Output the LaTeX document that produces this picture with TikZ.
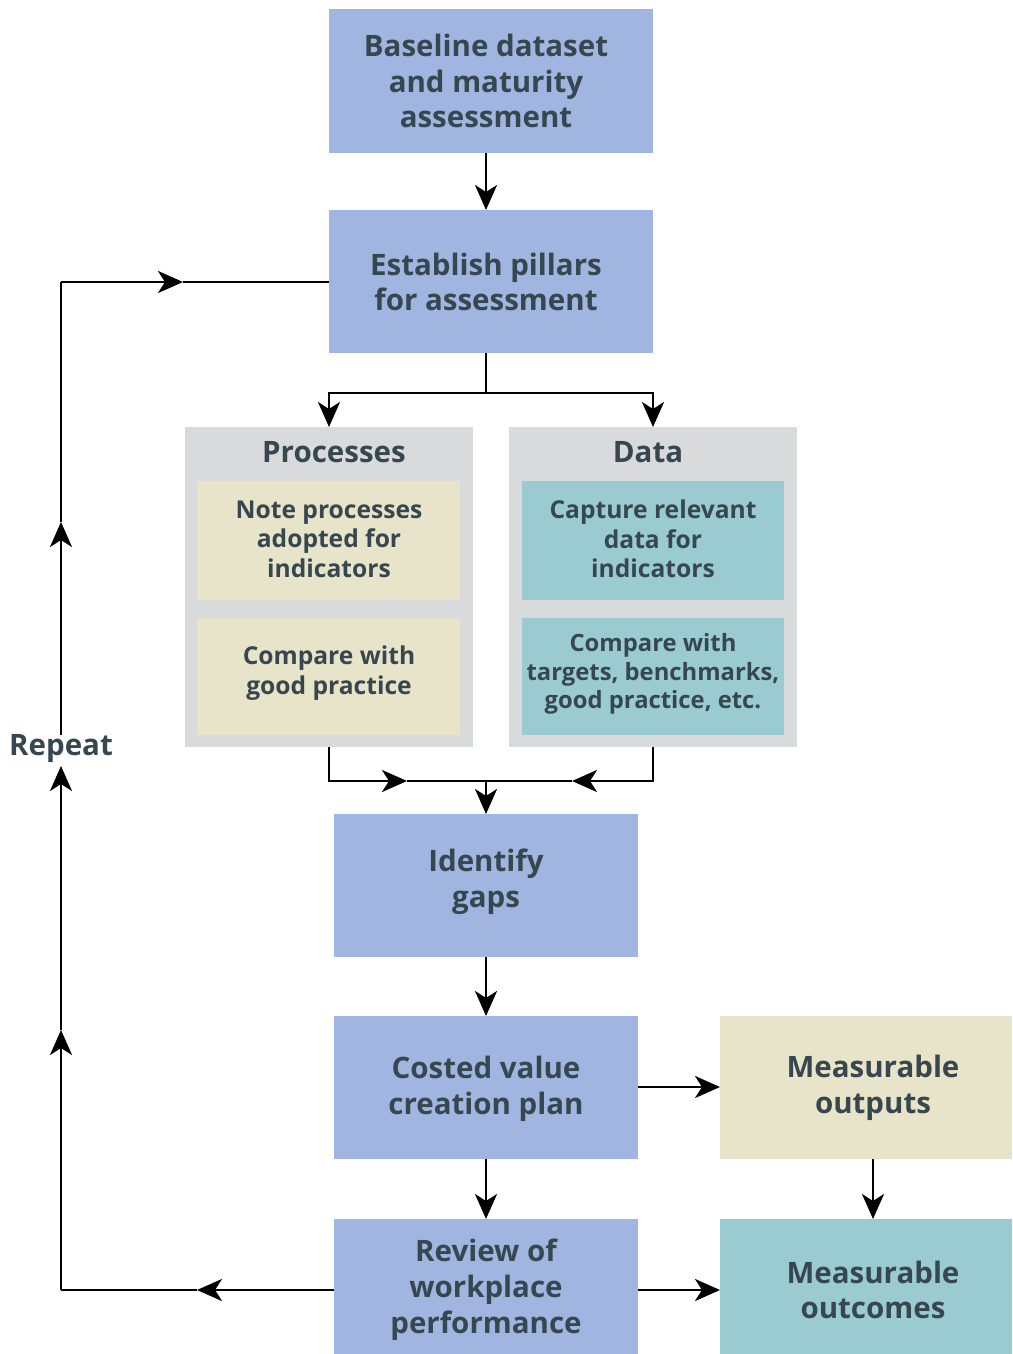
\documentclass[tikz,border=0pt]{standalone}
\usepackage{fontspec}
\setmainfont{Open Sans}
\usetikzlibrary{arrows.meta,calc}

\definecolor{boxblue}{HTML}{A0B6E0}
\definecolor{boxgray}{HTML}{D9DADC}
\definecolor{boxbeige}{HTML}{E8E4C9}
\definecolor{boxteal}{HTML}{99CBD0}
\definecolor{ink}{HTML}{37474F}

\tikzset{
  plain/.style={draw=none, inner sep=0pt, outer sep=0pt, anchor=north west},
  bluebox/.style={plain, fill=boxblue},
  graybox/.style={plain, fill=boxgray},
  beigebox/.style={plain, fill=boxbeige},
  tealbox/.style={plain, fill=boxteal},
  bigtxt/.style={text=ink, align=center, inner sep=0pt,
    font=\fontsize{29.5}{35.8}\selectfont\bfseries},
  midtxt/.style={text=ink, align=center, inner sep=0pt,
    font=\fontsize{24.6}{29.5}\selectfont\bfseries},
  smalltxt/.style={text=ink, align=center, inner sep=0pt,
    font=\fontsize{23.8}{28.8}\selectfont\bfseries},
  link/.style={draw=black, line width=2.5pt},
  arr/.style={link, -{Stealth[length=25pt,width=22pt,inset=7pt]}},
}

\begin{document}
\begin{tikzpicture}[x=1pt,y=-1pt]
\path[use as bounding box] (0,0) rectangle (1012,1354);

% column guides
\coordinate (sp) at (486,0);
\coordinate (lp) at (329,0);
\coordinate (rp) at (653,0);
\coordinate (op) at (873,0);

% main column boxes
\node[bluebox, minimum width=324pt, minimum height=144pt] (b1) at (329,9) {};
\node[bigtxt] (t1) at (486,81) {Baseline dataset\\and maturity\\assessment};

\node[bluebox, minimum width=324pt, minimum height=143pt] (b2) at (329,210) {};
\node[bigtxt] (t2) at (486,282) {Establish pillars\\for assessment};

% processes group
\node[graybox, minimum width=288pt, minimum height=320pt] (gp) at (185,427) {};
\node[bigtxt] (tgp) at (334,452) {Processes};
\node[beigebox, minimum width=263pt, minimum height=119pt] (p1) at (197,481) {};
\node[midtxt] (tp1) at (329,539) {Note processes\\adopted for\\indicators};
\node[beigebox, minimum width=263pt, minimum height=117pt] (p2) at (197,618) {};
\node[midtxt] (tp2) at (329,673) {Compare with\\good practice};

% data group
\node[graybox, minimum width=288pt, minimum height=320pt] (gd) at (509,427) {};
\node[bigtxt] (tgd) at (648,452) {Data};
\node[tealbox, minimum width=262pt, minimum height=119pt] (d1) at (522,481) {};
\node[midtxt] (td1) at (653,539) {Capture relevant\\data for\\indicators};
\node[tealbox, minimum width=262pt, minimum height=117pt] (d2) at (522,618) {};
\node[smalltxt] (td2) at (653,674) {Compare with\\targets, benchmarks,\\good practice, etc.};

% lower boxes
\node[bluebox, minimum width=304pt, minimum height=143pt] (b3) at (334,814) {};
\node[bigtxt] (t3) at (486,882) {Identify\\gaps};

\node[bluebox, minimum width=304pt, minimum height=143pt] (b4) at (334,1016) {};
\node[bigtxt] (t4) at (486,1089) {Costed value\\creation plan};

\node[beigebox, minimum width=292pt, minimum height=143pt] (b5) at (720,1016) {};
\node[bigtxt] (t5) at (873,1088) {Measurable\\outputs};

\node[bluebox, minimum width=304pt, minimum height=135pt] (b7) at (334,1219) {};
\node[bigtxt] (t7) at (486,1290) {Review of\\workplace\\performance};

\node[tealbox, minimum width=292pt, minimum height=135pt] (b6) at (720,1219) {};
\node[bigtxt] (t6) at (873,1290) {Measurable\\outcomes};

\node[bigtxt] (rep) at (61,749) {Repeat};

% connectors
\draw[arr] (b1.south -| sp) -- (b2.north -| sp);

\coordinate (split) at (486,393);
\draw[link] (b2.south -| sp) -- (split);
\draw[arr] (split) -| (gp.north -| lp);
\draw[arr] (split) -| (gd.north -| rp);

\coordinate (join) at (486,781);
\coordinate (jl) at (407,781);
\coordinate (jr) at (572,781);
\draw[arr] (gp.south -| lp) |- (jl);
\draw[link] (jl) -- (join);
\draw[arr] (gd.south -| rp) |- (jr);
\draw[link] (jr) -- (join);
\draw[arr] (join) -- (b3.north -| sp);

\draw[arr] (b3.south -| sp) -- (b4.north -| sp);
\draw[arr] (b4.south -| sp) -- (b7.north -| sp);
\coordinate (cv) at (638,1087);
\draw[arr] (cv) -- (b5.west |- cv);
\draw[arr] (b5.south -| op) -- (b6.north -| op);
\coordinate (rv) at (638,1290);
\draw[arr] (rv) -- (b6.west |- rv);

% repeat loop
\coordinate (lb) at (61,1290);
\coordinate (lbm) at (197,1290);
\coordinate (lt) at (61,282);
\coordinate (ltm) at (183,282);
\coordinate (u1) at (61,1030);
\coordinate (u2) at (61,766);
\coordinate (u3) at (61,522);
\draw[arr] (b7.west |- lb) -- (lbm);
\draw[link] (lbm) -- (lb);
\draw[arr] (lb) -- (u1);
\draw[arr] (u1) -- (u2);
\draw[arr] (rep.north) -- (u3);
\draw[link] (u3) -- (lt);
\draw[arr] (lt) -- (ltm);
\draw[link] (ltm) -- (b2.west |- lt);
\end{tikzpicture}
\end{document}
